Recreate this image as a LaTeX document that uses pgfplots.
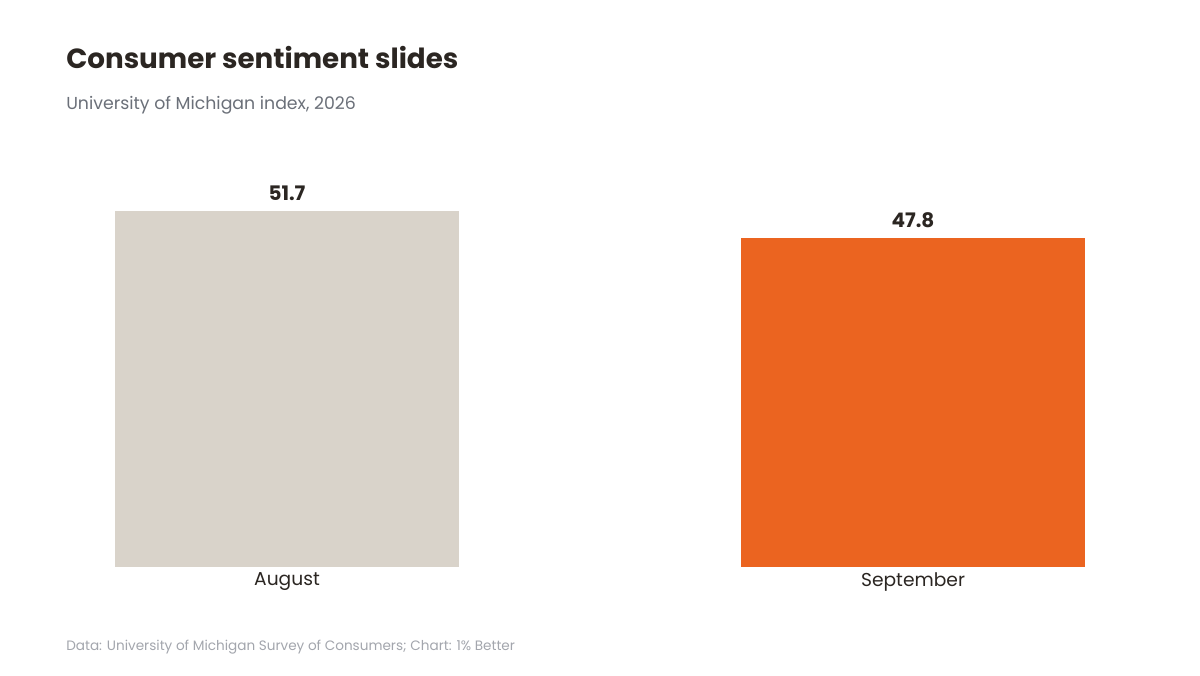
\documentclass[border=0pt]{standalone}
\usepackage{pgfplots}
\pgfplotsset{compat=1.18}
\usepackage{fontspec}
\setmainfont{Poppins}
\definecolor{inkdark}{HTML}{2B2622}
\definecolor{subgray}{HTML}{6B7079}
\definecolor{footgray}{HTML}{A3A6AD}
\definecolor{barbeige}{HTML}{D9D3CA}
\definecolor{barorange}{HTML}{EB6420}

\begin{document}
\begin{tikzpicture}
% page = 1200x675 px, 1px = 0.75pt
\path[fill=white, use as bounding box] (0,0) rectangle (900pt,506.25pt);

\node[anchor=base west, inner sep=0pt, text=inkdark, font=\fontsize{20.8}{24}\selectfont\bfseries]
    at (49.5pt,454.5pt) {Consumer sentiment slides};
\node[anchor=base west, inner sep=0pt, text=subgray, font=\fontsize{13}{16}\selectfont]
    at (49.5pt,424pt) {University of Michigan index, 2026};
\node[anchor=base west, inner sep=0pt, text=footgray, font=\fontsize{10.2}{12}\selectfont]
    at (49.5pt,18pt) {Data: University of Michigan Survey of Consumers; Chart: 1\% Better};

\begin{axis}[
    at={(49.5pt,81pt)}, anchor=south west,
    scale only axis,
    width=801pt, height=309.75pt,
    ybar, bar width=0.5495, bar shift=0pt,
    xmin=-0.353, xmax=1.353,
    ymin=0, ymax=60,
    axis line style={draw=none},
    ytick=\empty,
    xtick={0,1}, xticklabels={August, September},
    major tick length=0pt,
    xticklabel style={font=\fontsize{14}{16}\selectfont, text=inkdark, yshift=-1pt},
    nodes near coords,
    nodes near coords style={font=\fontsize{15}{17}\selectfont\bfseries, text=inkdark, yshift=4pt,
        /pgf/number format/.cd, fixed, fixed zerofill, precision=1},
    /pgf/number format/assume math mode=true,
]
\addplot[fill=barbeige, draw=none] coordinates {(0,51.7)};
\addplot[fill=barorange, draw=none] coordinates {(1,47.8)};
\end{axis}
\end{tikzpicture}
\end{document}
